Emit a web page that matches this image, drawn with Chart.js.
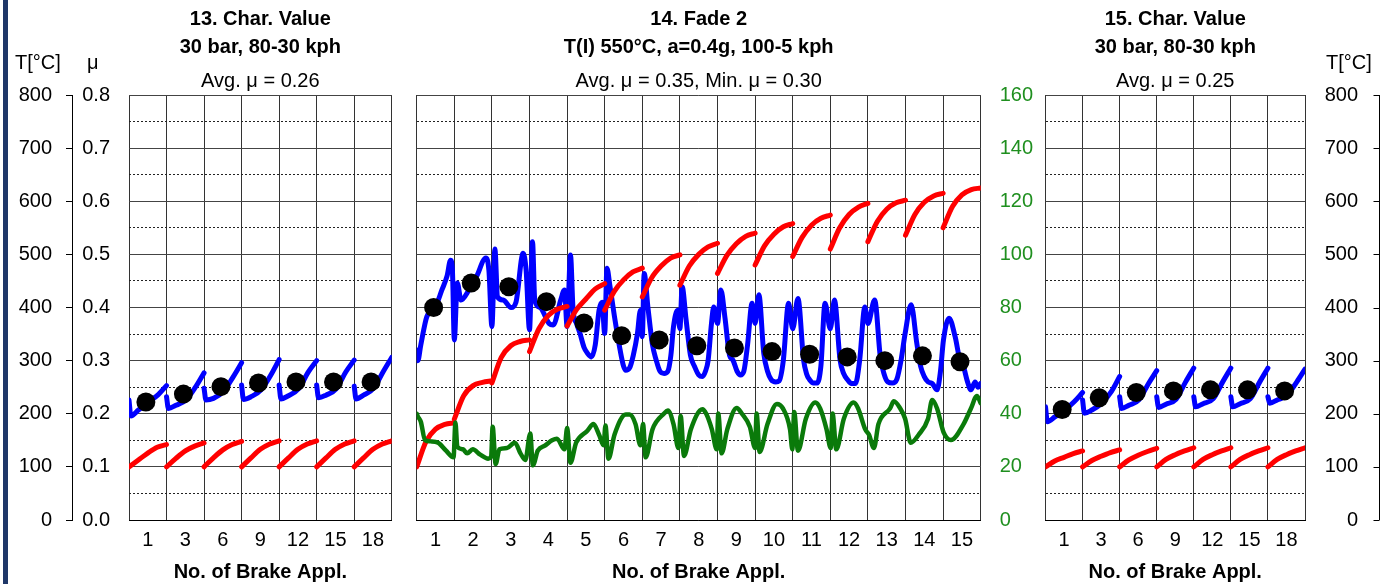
<!DOCTYPE html>
<html>
<head>
<meta charset="utf-8">
<script src="https://cdn.jsdelivr.net/npm/chart.js@4.4.1/dist/chart.umd.min.js"></script>
<style>
  html, body { margin: 0; padding: 0; background: #fff; }
  body { width: 1382px; height: 584px; position: relative; overflow: hidden; font-family: "Liberation Sans", Arial, sans-serif; }
  .bar { position: absolute; left: 3px; top: 0; width: 5px; height: 584px; background: #1f3768; }
  .panel { position: absolute; top: 0; height: 584px; }
  .unit { position: absolute; font-size: 20px; line-height: 20px; color: #000; white-space: nowrap; }
</style>
</head>
<body>
<div class="bar"></div>
<div class="panel" style="left:0;width:404px"><canvas id="c13"></canvas></div>
<div class="panel" style="left:404px;width:632px"><canvas id="c14"></canvas></div>
<div class="panel" style="left:1036px;width:346px"><canvas id="c15"></canvas></div>
<span class="unit" style="left:15px;top:52px">T[°C]</span>
<span class="unit" style="left:87px;top:52px">μ</span>
<span class="unit" style="left:1326px;top:52px">T[°C]</span>
<script>
Chart.defaults.font.family = '"Liberation Sans", Arial, sans-serif';
Chart.defaults.color = '#000';

// shared axis ranges
const tempMax = 800, muMax = 0.8, presMax = 160;
const halfTicks = [50, 150, 250, 350, 450, 550, 650, 750];

// sample positions inside one brake application (fraction of the column)
const tempFrac = [0, 0.25, 0.5, 0.75, 1];
const muFrac = [0, 0.05, 0.25, 0.52, 0.78, 1];
const dotFrac = 0.45;

// 13. Char. Value
const c13Labels = ['1', '3', '6', '9', '12', '15', '18'];
const c13Temp = [
  [100, 113, 126, 137, 142],
  [100, 116, 130, 139, 145],
  [100, 117, 132, 142, 148],
  [100, 117, 133, 143, 149],
  [100, 117, 133, 143, 149],
  [100, 117, 133, 143, 149],
  [100, 117, 133, 143, 149]
];
const c13Mu = [
  [0.226, 0.196, 0.207, 0.222, 0.236, 0.253],
  [0.232, 0.210, 0.216, 0.226, 0.251, 0.277],
  [0.248, 0.226, 0.229, 0.242, 0.270, 0.296],
  [0.254, 0.227, 0.232, 0.245, 0.273, 0.302],
  [0.254, 0.228, 0.234, 0.247, 0.279, 0.300],
  [0.254, 0.230, 0.235, 0.247, 0.279, 0.301],
  [0.252, 0.228, 0.235, 0.248, 0.280, 0.306]
];
const c13AvgMu = [0.222, 0.237, 0.251, 0.258, 0.260, 0.260, 0.260];

// 14. Fade 2
const fadeLabels = ['1', '2', '3', '4', '5', '6', '7', '8', '9', '10', '11', '12', '13', '14', '15'];
const fadeTemp = [
  [100, 148, 171, 180, 183],
  [190, 234, 253, 259, 262],
  [258, 306, 328, 336, 339],
  [317, 360, 385, 397, 402],
  [365, 396, 416, 435, 445],
  [395, 430, 452, 467, 474],
  [420, 456, 478, 493, 499],
  [442, 478, 500, 514, 521],
  [464, 498, 520, 534, 540],
  [480, 516, 538, 552, 558],
  [496, 532, 555, 568, 574],
  [510, 550, 575, 589, 596],
  [524, 562, 585, 597, 602],
  [536, 575, 598, 610, 615],
  [550, 590, 612, 622, 625]
];
const fadeMuX = [
  0.00, 0.03, 0.11, 0.27, 0.49, 0.67, 0.81, 0.90, 0.95, 1.00,
  1.08, 1.18, 1.39, 1.59, 1.84, 1.92, 2.00, 2.08, 2.15, 2.30,
  2.51, 2.64, 2.83, 2.91, 3.00, 3.08, 3.14, 3.28, 3.52, 3.63,
  3.83, 3.93, 4.00, 4.09, 4.16, 4.25, 4.34, 4.45, 4.54, 4.65,
  4.75, 4.85, 4.93, 5.00, 5.06, 5.14, 5.26, 5.41, 5.50, 5.56,
  5.66, 5.76, 5.87, 5.95, 6.00, 6.05, 6.15, 6.27, 6.37, 6.47,
  6.58, 6.68, 6.76, 6.83, 6.94, 7.00, 7.06, 7.16, 7.28, 7.39,
  7.50, 7.60, 7.68, 7.75, 7.84, 7.90, 8.00, 8.09, 8.20, 8.32,
  8.41, 8.52, 8.61, 8.70, 8.80, 8.92, 9.00, 9.10, 9.23, 9.33,
  9.43, 9.55, 9.64, 9.75, 9.89, 10.00, 10.14, 10.29, 10.37, 10.45,
  10.55, 10.65, 10.75, 10.86, 11.00, 11.11, 11.26, 11.36, 11.46, 11.56,
  11.67, 11.78, 11.92, 12.00, 12.18, 12.33, 12.43, 12.53, 12.65, 12.77,
  12.88, 12.99, 13.15, 13.30, 13.40, 13.50, 13.60, 13.71, 13.84, 13.93,
  14.01, 14.16, 14.32, 14.45, 14.54, 14.65, 14.74, 14.85, 14.93, 15.00
];
const fadeMu = [
  0.320, 0.300, 0.330, 0.383, 0.400, 0.433, 0.460, 0.489, 0.470, 0.339,
  0.446, 0.414, 0.433, 0.458, 0.493, 0.470, 0.364, 0.510, 0.420, 0.414,
  0.400, 0.410, 0.502, 0.470, 0.358, 0.524, 0.414, 0.400, 0.370, 0.367,
  0.414, 0.433, 0.364, 0.499, 0.395, 0.370, 0.352, 0.325, 0.314, 0.307,
  0.330, 0.395, 0.410, 0.351, 0.474, 0.440, 0.383, 0.320, 0.290, 0.282,
  0.286, 0.310, 0.351, 0.395, 0.345, 0.464, 0.400, 0.330, 0.301, 0.280,
  0.276, 0.280, 0.310, 0.364, 0.395, 0.360, 0.439, 0.380, 0.310, 0.289,
  0.273, 0.270, 0.280, 0.300, 0.370, 0.401, 0.370, 0.433, 0.380, 0.310,
  0.301, 0.280, 0.273, 0.280, 0.330, 0.408, 0.370, 0.424, 0.314, 0.280,
  0.264, 0.260, 0.262, 0.300, 0.408, 0.360, 0.417, 0.301, 0.275, 0.264,
  0.258, 0.258, 0.290, 0.408, 0.360, 0.414, 0.301, 0.275, 0.264, 0.257,
  0.257, 0.300, 0.401, 0.370, 0.414, 0.307, 0.275, 0.260, 0.258, 0.265,
  0.300, 0.351, 0.405, 0.333, 0.290, 0.270, 0.260, 0.257, 0.245, 0.280,
  0.339, 0.380, 0.345, 0.300, 0.289, 0.260, 0.245, 0.260, 0.250, 0.257
];
const fadePresX = [
  0.00, 0.03, 0.11, 0.22, 0.37, 0.57, 0.78, 0.98, 1.03, 1.08,
  1.23, 1.34, 1.49, 1.69, 1.90, 1.98, 2.02, 2.10, 2.20, 2.40,
  2.61, 2.76, 2.89, 3.02, 3.09, 3.22, 3.42, 3.60, 3.73, 3.93,
  4.00, 4.09, 4.24, 4.54, 4.70, 4.85, 4.97, 5.02, 5.10, 5.26,
  5.56, 5.66, 5.82, 5.95, 6.02, 6.09, 6.27, 6.58, 6.68, 6.83,
  6.96, 7.02, 7.11, 7.29, 7.60, 7.70, 7.85, 7.98, 8.02, 8.11,
  8.26, 8.51, 8.65, 8.86, 9.00, 9.04, 9.12, 9.33, 9.58, 9.74,
  9.93, 9.99, 10.04, 10.14, 10.35, 10.60, 10.73, 10.90, 11.01, 11.06,
  11.16, 11.36, 11.62, 11.74, 11.93, 12.03, 12.16, 12.28, 12.59, 12.69,
  12.86, 12.99, 13.14, 13.35, 13.60, 13.71, 13.84, 14.01, 14.21, 14.54,
  14.74, 14.90, 15.00
];
const fadePres = [
  40.0, 39.0, 37.0, 30.1, 29.6, 29.1, 26.1, 23.6, 36.7, 27.6,
  26.6, 25.1, 26.6, 24.6, 23.1, 24.0, 35.1, 21.1, 26.6, 27.1,
  29.1, 25.1, 22.6, 32.6, 20.6, 26.1, 28.1, 30.0, 30.6, 26.6,
  34.6, 21.6, 29.1, 33.6, 36.1, 32.1, 28.1, 35.6, 23.1, 32.1,
  39.7, 39.7, 36.1, 28.1, 36.1, 23.6, 34.1, 40.1, 41.2, 36.1,
  27.1, 39.2, 24.1, 34.1, 41.7, 40.0, 34.1, 26.6, 40.1, 25.1,
  34.1, 42.2, 40.0, 35.1, 27.1, 40.1, 25.6, 36.1, 43.7, 42.0,
  34.0, 26.6, 40.7, 26.1, 38.1, 44.2, 42.0, 34.1, 27.1, 40.1,
  26.6, 38.1, 44.2, 42.0, 34.1, 32.1, 27.1, 36.1, 42.0, 44.7,
  42.0, 38.1, 29.1, 32.1, 38.1, 45.2, 42.0, 33.1, 30.1, 36.0,
  42.0, 46.7, 44.0
];
const fadeAvgMu = [0.400, 0.446, 0.439, 0.411, 0.371, 0.347, 0.339, 0.328, 0.324, 0.317, 0.312, 0.307, 0.300, 0.309, 0.298];

// 15. Char. Value
const c15Labels = ['1', '3', '6', '9', '12', '15', '18'];
const c15Temp = [
  [100, 111, 118, 125, 130],
  [100, 112, 120, 127, 132],
  [100, 113, 122, 129, 135],
  [100, 114, 123, 130, 136],
  [100, 114, 123, 130, 136],
  [100, 114, 123, 130, 136],
  [100, 114, 123, 130, 136]
];
const c15Mu = [
  [0.213, 0.185, 0.194, 0.207, 0.223, 0.240],
  [0.226, 0.201, 0.207, 0.220, 0.242, 0.270],
  [0.232, 0.210, 0.216, 0.226, 0.257, 0.281],
  [0.232, 0.212, 0.218, 0.227, 0.260, 0.286],
  [0.232, 0.213, 0.219, 0.228, 0.260, 0.286],
  [0.232, 0.213, 0.219, 0.228, 0.260, 0.286],
  [0.232, 0.220, 0.226, 0.235, 0.260, 0.284]
];
const c15AvgMu = [0.208, 0.230, 0.240, 0.243, 0.245, 0.245, 0.243];

const BLUE = '#0000ff', RED = '#ff0000', GREEN = '#0a7a0a', GREEN_TXT = '#1f8f1f';

function sawtooth(rows, frac) {
  const pts = [];
  rows.forEach((row, i) => {
    row.forEach((v, j) => pts.push({ x: i + frac[j], y: v }));
    pts.push({ x: i + 1, y: null });
  });
  return pts;
}

function pairs(xs, ys) {
  return xs.map((x, i) => ({ x, y: ys[i] }));
}

function dots(vals) {
  return vals.map((v, i) => ({ x: i + dotFrac, y: v }));
}

function xAxis(labels) {
  return {
    type: 'linear', min: 0, max: labels.length,
    afterBuildTicks: (s) => { s.ticks = labels.map((_, i) => ({ value: i + 0.5 })); },
    afterFit: (s) => { s.height = 64; },
    grid: { offset: true, drawTicks: false, lineWidth: 1, color: '#333' },
    border: { color: '#000', width: 1 },
    ticks: { autoSkip: false, maxRotation: 0, padding: 8, font: { size: 20 }, callback: (v, i) => labels[i] },
    title: { display: true, text: 'No. of Brake Appl.', font: { size: 20, weight: 'bold' }, padding: 0 }
  };
}

// dotted half-step lines (50, 150, ... °C) on the plot area
function halfGrid(pos) {
  return {
    type: 'linear', position: pos, weight: -1, min: 0, max: tempMax,
    afterBuildTicks: (s) => { s.ticks = halfTicks.map((v) => ({ value: v })); },
    afterFit: (s) => { s.width = 0; },
    ticks: { display: false },
    grid: { drawTicks: false, color: '#222', lineWidth: 1 },
    border: { display: false, dash: [2, 2] }
  };
}

function headings(lines, sub) {
  return {
    legend: { display: false },
    tooltip: { enabled: false },
    title: { display: true, fullSize: false, text: lines, color: '#000',
      font: { size: 20, weight: 'bold', lineHeight: 1.375 }, padding: { top: 6, bottom: 0 } },
    subtitle: { display: true, fullSize: false, text: sub, color: '#000',
      font: { size: 20, lineHeight: 1.2 }, padding: { top: 8, bottom: 2 } }
  };
}

function tempLine(rows) {
  return { data: sawtooth(rows, tempFrac), yAxisID: 'yT', borderColor: RED, borderWidth: 5,
    cubicInterpolationMode: 'monotone', pointRadius: 0, borderCapStyle: 'round', order: 2 };
}

function muLine(data) {
  return { data, yAxisID: 'yMu', borderColor: BLUE, borderWidth: 5, cubicInterpolationMode: 'monotone',
    pointRadius: 0, borderCapStyle: 'round', borderJoinStyle: 'round', order: 3 };
}

function avgDots(vals) {
  return { data: dots(vals), yAxisID: 'yMu', showLine: false, pointRadius: 9.5,
    pointBackgroundColor: '#000', pointBorderWidth: 0, order: 0 };
}

const baseOpts = { responsive: true, maintainAspectRatio: false, animation: false, events: [] };

new Chart(document.getElementById('c13'), {
  type: 'line',
  data: { datasets: [avgDots(c13AvgMu), tempLine(c13Temp), muLine(sawtooth(c13Mu, muFrac))] },
  options: Object.assign({}, baseOpts, {
    layout: { padding: { left: 0, right: 12.3, top: 0, bottom: 0 } },
    plugins: headings(['13. Char. Value', '30 bar, 80-30 kph'], 'Avg. μ = 0.26'),
    scales: {
      x: xAxis(c13Labels),
      yT: { type: 'linear', position: 'left', weight: 1, min: 0, max: tempMax,
        afterFit: (s) => { s.width = 72; },
        ticks: { stepSize: 100, autoSkip: false, padding: 14, font: { size: 20 } },
        grid: { drawOnChartArea: false, drawTicks: true, tickLength: 6, tickColor: '#000' },
        border: { display: true, color: '#000', width: 1 } },
      yMu: { type: 'linear', position: 'left', weight: 0, min: 0, max: muMax,
        afterFit: (s) => { s.width = 57; },
        ticks: { stepSize: 0.1, autoSkip: false, padding: 19, font: { size: 20 }, callback: (v) => v.toFixed(1) },
        grid: { drawTicks: false, color: '#444', lineWidth: 1 },
        border: { display: false } },
      yHalf: halfGrid('left')
    }
  })
});

new Chart(document.getElementById('c14'), {
  type: 'line',
  data: {
    datasets: [
      avgDots(fadeAvgMu),
      { data: pairs(fadePresX, fadePres), yAxisID: 'yP', borderColor: GREEN, borderWidth: 4.5,
        cubicInterpolationMode: 'monotone', pointRadius: 0, borderCapStyle: 'round', borderJoinStyle: 'round', order: 1 },
      tempLine(fadeTemp),
      muLine(pairs(fadeMuX, fadeMu))
    ]
  },
  options: Object.assign({}, baseOpts, {
    layout: { padding: { left: 12.7, right: 0, top: 0, bottom: 0 } },
    plugins: headings(['14. Fade 2', 'T(I) 550°C, a=0.4g, 100-5 kph'], 'Avg. μ = 0.35, Min. μ = 0.30'),
    scales: {
      x: xAxis(fadeLabels),
      yT: { type: 'linear', display: false, position: 'left', min: 0, max: tempMax },
      yMu: { type: 'linear', display: false, position: 'left', min: 0, max: muMax },
      yHalf: halfGrid('left'),
      yP: { type: 'linear', position: 'right', min: 0, max: presMax,
        afterFit: (s) => { s.width = 55.3; },
        ticks: { stepSize: 20, autoSkip: false, padding: 19, color: GREEN_TXT, font: { size: 20 } },
        grid: { drawTicks: false, color: '#444', lineWidth: 1 },
        border: { display: false } }
    }
  })
});

const outerTempAxis = {
  id: 'outerTempAxis',
  afterDraw(chart) {
    const s = chart.scales.yT;
    const ctx = chart.ctx;
    const x = chart.width - 2.5;
    ctx.save();
    ctx.strokeStyle = '#000';
    ctx.lineWidth = 1;
    ctx.beginPath();
    ctx.moveTo(x, s.top);
    ctx.lineTo(x, s.bottom);
    s.ticks.forEach((t) => {
      const y = Math.round(s.getPixelForValue(t.value)) + 0.5;
      ctx.moveTo(x - 6, y);
      ctx.lineTo(x, y);
    });
    ctx.stroke();
    ctx.restore();
  }
};

new Chart(document.getElementById('c15'), {
  type: 'line',
  data: { datasets: [avgDots(c15AvgMu), tempLine(c15Temp), muLine(sawtooth(c15Mu, muFrac))] },
  options: Object.assign({}, baseOpts, {
    layout: { padding: { left: 5, right: 24, top: 0, bottom: 0 } },
    plugins: headings(['15. Char. Value', '30 bar, 80-30 kph'], 'Avg. μ = 0.25'),
    scales: {
      x: xAxis(c15Labels),
      yMu: { type: 'linear', display: false, position: 'left', min: 0, max: muMax },
      yHalf: halfGrid('left'),
      yT: { type: 'linear', position: 'right', min: 0, max: tempMax,
        afterFit: (s) => { s.width = 53; },
        ticks: { stepSize: 100, autoSkip: false, crossAlign: 'far', font: { size: 20 } },
        grid: { drawTicks: false, color: '#444', lineWidth: 1 },
        border: { display: false } }
    }
  }),
  plugins: [outerTempAxis]
});
</script>
</body>
</html>
